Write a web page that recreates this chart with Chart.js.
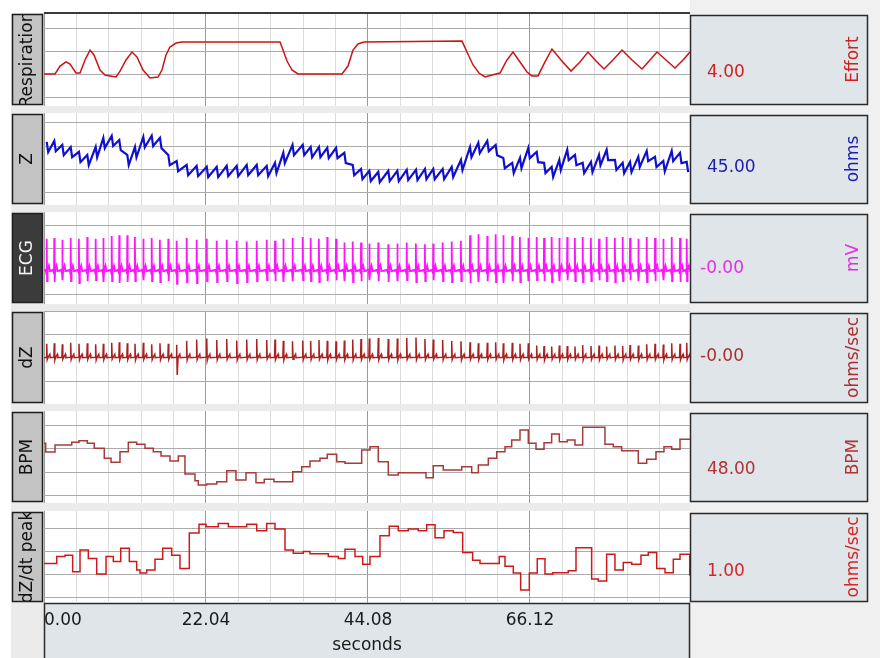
<!DOCTYPE html>
<html>
<head>
<meta charset="utf-8">
<script src="https://cdn.jsdelivr.net/npm/chart.js@4.4.1/dist/chart.umd.min.js"></script>
<style>
  html, body { margin: 0; padding: 0; background: #fff; }
  #wrap { position: relative; width: 880px; height: 658px; overflow: hidden; background: #fff; }
  .band { position: absolute; }
  canvas { position: absolute; left: 0; }
</style>
</head>
<body>
<div id="wrap">
  <div class="band" style="left:11px;top:13px;width:679px;height:645px;background:#ebebeb"></div>
  <div class="band" style="left:690px;top:0;width:190px;height:658px;background:#f0f0f0"></div>
  <canvas id="cResp" width="880" height="93" style="top:13px"></canvas>
  <canvas id="cZ" width="880" height="92" style="top:113px"></canvas>
  <canvas id="cEcg" width="880" height="92" style="top:212px"></canvas>
  <canvas id="cDz" width="880" height="93" style="top:311px"></canvas>
  <canvas id="cBpm" width="880" height="92" style="top:411px"></canvas>
  <canvas id="cPeak" width="880" height="147" style="top:511px"></canvas>
  <div class="band" style="left:44px;top:12px;width:646px;height:2px;background:#3a3a3a"></div>
</div>
<script>
// time axis (seconds)
const X_MAX = 87.89;
const majorTicks = [0, 22.04, 44.08, 66.12];
const tickLabels = ["0.00", "22.04", "44.08", "66.12"];
const minorStep = 4.408;

// respiration effort
const respT = [0.00, 1.50, 2.18, 2.99, 3.54, 4.35, 4.90, 5.58, 6.26, 6.80, 7.62, 8.30, 8.98, 9.80, 10.34, 11.16, 11.97, 12.65, 13.47, 14.42, 15.51, 16.05, 16.60, 17.14, 17.96, 18.78, 32.11, 32.52, 33.06, 33.74, 34.56, 40.54, 41.36, 42.04, 42.72, 43.54, 56.87, 57.55, 58.37, 59.18, 60.00, 60.95, 62.04, 62.99, 63.81, 64.76, 65.71, 66.39, 67.21, 68.16, 69.11, 70.34, 71.70, 72.92, 74.01, 75.10, 76.19, 77.41, 78.64, 80.00, 81.36, 82.45, 83.40, 84.62, 85.85, 86.94, 87.89];
const respV = [2.06, 2.06, 2.74, 3.09, 2.91, 2.14, 2.14, 3.26, 4.11, 3.69, 2.40, 1.97, 1.89, 1.80, 2.31, 3.26, 3.94, 3.51, 2.40, 1.71, 1.80, 2.40, 3.69, 4.37, 4.71, 4.80, 4.80, 4.11, 3.17, 2.40, 2.06, 2.06, 2.74, 4.11, 4.63, 4.80, 4.88, 3.94, 2.83, 2.14, 1.80, 1.97, 2.14, 3.26, 3.94, 3.09, 2.23, 1.89, 1.89, 3.09, 4.20, 3.26, 2.31, 3.09, 3.94, 3.17, 2.49, 3.26, 4.11, 3.26, 2.49, 3.26, 3.94, 3.26, 2.57, 3.26, 3.94];

// heart beat times (s), read from the ECG spikes
const beatT = [
  0.37, 1.40, 2.49, 3.63, 4.76, 5.89, 7.03, 8.07, 9.21, 10.24,
  11.33, 12.38, 13.51, 14.65, 15.78, 16.91, 18.05, 19.41, 20.77, 22.14,
  23.50, 24.86, 26.22, 27.58, 28.94, 30.30, 31.43, 32.56, 33.81, 35.20,
  36.28, 37.41, 38.54, 39.73, 40.86, 42.00, 43.13, 44.26, 45.48, 46.84,
  48.07, 49.35, 50.61, 51.83, 52.96, 54.24, 55.47, 56.73, 57.96, 59.09,
  60.31, 61.45, 62.49, 63.71, 64.76, 65.89, 67.03, 68.03, 69.07, 70.11,
  71.19, 72.24, 73.29, 74.42, 75.51, 76.55, 77.68, 78.73, 79.73, 80.86,
  82.00, 83.13, 84.26, 85.40, 86.53, 87.44
];

// Z (ohms) at each beat and just after the systolic drop
const zTop = [
  46.18, 46.22, 46.05, 45.96, 45.75, 45.62, 45.96, 46.35, 46.44, 46.26,
  45.62, 45.96, 46.39, 46.44, 46.35, 45.62, 45.36, 45.19, 45.15, 45.11,
  45.11, 45.15, 45.15, 45.19, 45.19, 45.15, 45.28, 45.71, 46.05, 46.05,
  45.96, 45.96, 45.92, 45.92, 45.71, 45.19, 45.02, 44.94, 44.89, 44.94,
  44.94, 44.98, 44.98, 45.02, 45.02, 45.02, 45.11, 45.41, 45.96, 46.14,
  46.22, 46.05, 45.49, 45.28, 45.49, 45.92, 45.75, 45.28, 45.11, 45.41,
  45.84, 45.62, 45.28, 45.32, 45.62, 45.84, 45.41, 45.28, 45.32, 45.54,
  45.79, 45.54, 45.36, 45.79, 45.71, 45.32
];
const zLow = [
  45.74, 45.78, 45.61, 45.52, 45.31, 45.18, 45.52, 45.91, 46.00, 45.82,
  45.18, 45.52, 45.95, 46.00, 45.91, 45.18, 44.92, 44.75, 44.71, 44.67,
  44.67, 44.71, 44.71, 44.75, 44.75, 44.71, 44.84, 45.27, 45.61, 45.61,
  45.52, 45.52, 45.48, 45.48, 45.27, 44.75, 44.58, 44.50, 44.45, 44.50,
  44.50, 44.54, 44.54, 44.58, 44.58, 44.58, 44.67, 44.97, 45.52, 45.70,
  45.78, 45.61, 45.05, 44.84, 45.05, 45.48, 45.31, 44.84, 44.67, 44.97,
  45.40, 45.18, 44.84, 44.88, 45.18, 45.40, 44.97, 44.84, 44.88, 45.10,
  45.35, 45.10, 44.92, 45.35, 45.27, 44.88
];

// ECG R peak and S trough (mV) per beat
const ecgR = [
  0.70, 0.72, 0.68, 0.72, 0.70, 0.74, 0.70, 0.72, 0.76, 0.78,
  0.78, 0.74, 0.70, 0.72, 0.68, 0.70, 0.66, 0.72, 0.68, 0.70,
  0.66, 0.68, 0.66, 0.64, 0.66, 0.68, 0.66, 0.70, 0.72, 0.74,
  0.72, 0.70, 0.74, 0.70, 0.62, 0.64, 0.62, 0.60, 0.62, 0.58,
  0.60, 0.62, 0.60, 0.58, 0.60, 0.62, 0.64, 0.66, 0.78, 0.80,
  0.76, 0.80, 0.78, 0.76, 0.74, 0.72, 0.74, 0.72, 0.74, 0.72,
  0.74, 0.72, 0.74, 0.72, 0.70, 0.74, 0.72, 0.74, 0.72, 0.70,
  0.74, 0.72, 0.70, 0.74, 0.72, 0.70
];
const ecgS = [
  -0.22, -0.24, -0.20, -0.22, -0.26, -0.22, -0.20, -0.24, -0.22, -0.26,
  -0.24, -0.22, -0.20, -0.22, -0.24, -0.22, -0.28, -0.24, -0.26, -0.22,
  -0.24, -0.22, -0.26, -0.24, -0.22, -0.20, -0.22, -0.24, -0.22, -0.20,
  -0.22, -0.24, -0.22, -0.20, -0.22, -0.24, -0.22, -0.20, -0.22, -0.24,
  -0.22, -0.20, -0.24, -0.22, -0.20, -0.22, -0.24, -0.22, -0.26, -0.24,
  -0.22, -0.24, -0.26, -0.22, -0.24, -0.22, -0.20, -0.22, -0.24, -0.22,
  -0.20, -0.22, -0.24, -0.22, -0.20, -0.22, -0.24, -0.22, -0.20, -0.22,
  -0.24, -0.22, -0.20, -0.22, -0.24, -0.22
];

// dZ (ohms/sec) peak and trough per beat
const dzPeak = [
  0.60, 0.62, 0.58, 0.64, 0.60, 0.62, 0.58, 0.60, 0.64, 0.66,
  0.62, 0.60, 0.64, 0.58, 0.62, 0.60, 0.55, 0.72, 0.78, 0.82,
  0.76, 0.80, 0.74, 0.78, 0.80, 0.76, 0.78, 0.72, 0.70, 0.74,
  0.72, 0.76, 0.72, 0.70, 0.74, 0.78, 0.80, 0.82, 0.84, 0.80,
  0.82, 0.84, 0.86, 0.80, 0.78, 0.76, 0.72, 0.70, 0.66, 0.62,
  0.64, 0.66, 0.62, 0.64, 0.60, 0.62, 0.52, 0.50, 0.48, 0.52,
  0.50, 0.48, 0.54, 0.50, 0.52, 0.48, 0.52, 0.50, 0.54, 0.52,
  0.58, 0.60, 0.56, 0.62, 0.60, 0.64
];
const dzTrough = [
  -0.08, -0.10, -0.06, -0.08, -0.09, -0.07, -0.10, -0.08, -0.06, -0.09,
  -0.08, -0.10, -0.07, -0.08, -0.09, -0.07, -0.74, -0.10, -0.08, -0.12,
  -0.09, -0.07, -0.10, -0.08, -0.09, -0.06, -0.08, -0.10, -0.07, -0.09,
  -0.08, -0.07, -0.10, -0.08, -0.09, -0.10, -0.08, -0.07, -0.09, -0.08,
  -0.10, -0.07, -0.09, -0.08, -0.06, -0.09, -0.08, -0.10, -0.07, -0.09,
  -0.08, -0.07, -0.10, -0.08, -0.09, -0.06, -0.08, -0.10, -0.07, -0.09,
  -0.08, -0.07, -0.10, -0.08, -0.09, -0.06, -0.08, -0.10, -0.07, -0.09,
  -0.08, -0.07, -0.10, -0.08, -0.09, -0.08
];

// beat-to-beat heart rate (step start times and values)
const bpmT = [0.00, 0.23, 1.50, 3.77, 4.76, 5.89, 6.84, 8.20, 9.12, 10.34, 11.47, 12.61, 13.74, 14.87, 15.92, 17.14, 18.27, 19.18, 20.54, 20.99, 22.14, 23.50, 24.86, 26.12, 27.48, 28.84, 29.97, 31.29, 33.84, 35.06, 36.19, 37.55, 38.54, 39.82, 40.95, 43.22, 44.35, 45.48, 46.84, 48.20, 51.97, 52.96, 54.32, 56.83, 58.19, 59.09, 60.45, 61.59, 62.72, 63.63, 64.76, 65.89, 66.94, 68.03, 69.07, 70.11, 71.19, 72.24, 73.29, 76.32, 77.45, 78.59, 80.85, 82.00, 83.26, 84.35, 85.40, 86.53, 87.89];
const bpmV = [51.18, 49.31, 50.82, 51.40, 51.75, 51.18, 50.11, 47.95, 47.09, 49.37, 51.40, 50.97, 50.11, 49.37, 48.45, 47.37, 48.45, 44.57, 43.13, 42.20, 42.41, 42.91, 45.28, 43.28, 44.85, 42.69, 43.43, 42.91, 45.06, 46.14, 47.37, 47.95, 48.81, 47.22, 46.87, 49.74, 50.45, 47.22, 44.35, 44.85, 43.77, 46.36, 45.43, 46.14, 44.85, 46.51, 47.95, 49.37, 50.45, 51.90, 54.05, 51.18, 49.89, 51.31, 53.19, 51.53, 51.90, 50.82, 54.63, 50.97, 50.45, 49.59, 46.87, 47.74, 49.37, 50.45, 49.89, 52.05, 52.05];

// dZ/dt peak per beat (steps)
const peakT = [0.00, 1.73, 2.86, 3.90, 4.90, 6.03, 7.17, 8.44, 9.43, 10.44, 11.61, 12.61, 13.06, 13.97, 15.10, 16.15, 17.37, 18.50, 19.77, 21.09, 22.04, 23.71, 25.08, 27.58, 28.94, 30.30, 31.43, 32.79, 33.92, 35.28, 36.19, 38.68, 40.04, 40.95, 42.31, 43.36, 44.35, 45.71, 46.98, 48.20, 49.56, 50.92, 52.07, 53.20, 54.42, 55.69, 56.96, 58.32, 59.32, 61.94, 62.72, 63.85, 64.85, 66.03, 67.11, 68.16, 69.21, 71.33, 72.38, 74.51, 75.41, 76.55, 77.68, 78.81, 79.96, 81.22, 82.21, 83.36, 84.49, 85.62, 86.53, 87.85, 87.89];
const peakV = [1.23, 1.38, 1.41, 1.05, 1.52, 1.34, 1.00, 1.38, 1.27, 1.56, 1.27, 1.09, 1.02, 1.09, 1.32, 1.56, 1.41, 1.12, 1.89, 2.08, 2.03, 2.10, 2.03, 2.08, 1.94, 2.10, 1.98, 1.52, 1.45, 1.49, 1.44, 1.38, 1.34, 1.54, 1.38, 1.21, 1.38, 1.83, 2.04, 1.94, 1.98, 1.94, 2.07, 1.79, 1.94, 1.90, 1.47, 1.30, 1.23, 1.38, 1.17, 1.02, 0.65, 1.02, 1.33, 1.00, 1.03, 1.07, 1.57, 0.89, 0.85, 1.43, 1.09, 1.25, 1.21, 1.41, 1.47, 1.12, 1.03, 1.32, 1.43, 0.98, 0.98];

const FONT = '"DejaVu Sans", Verdana, sans-serif';

function pairs(xs, ys) {
  return xs.map((x, i) => ({ x: x, y: ys[i] }));
}

function zPoints() {
  const pts = [];
  beatT.forEach((t, i) => {
    pts.push({ x: t, y: zTop[i] });
    pts.push({ x: t + 0.2, y: zLow[i] });
  });
  return pts;
}

function ecgPoints() {
  const pts = [{ x: 0, y: 0 }];
  beatT.forEach((t, i) => {
    pts.push({ x: t - 0.12, y: 0.03 });
    pts.push({ x: t - 0.04, y: -0.06 });
    pts.push({ x: t, y: ecgR[i] });
    pts.push({ x: t + 0.05, y: ecgS[i] });
    pts.push({ x: t + 0.12, y: 0.02 });
    pts.push({ x: t + 0.3, y: 0.12 });
    pts.push({ x: t + 0.45, y: 0 });
  });
  return pts;
}

function dzPoints() {
  const pts = [{ x: 0, y: 0 }];
  beatT.forEach((t, i) => {
    pts.push({ x: t - 0.06, y: 0.02 });
    pts.push({ x: t, y: dzPeak[i] });
    pts.push({ x: t + 0.07, y: dzTrough[i] });
    pts.push({ x: t + 0.2, y: 0.03 });
    pts.push({ x: t + 0.42, y: 0.15 });
    pts.push({ x: t + 0.48, y: 0 });
  });
  return pts;
}

// vertical grid: a darker line every 22.04 s, light ones between
const xGrid = [];
majorTicks.forEach((m) => {
  xGrid.push({ value: m, major: true });
  for (let k = 1; k < 5; k++) {
    const v = m + k * minorStep;
    if (v < X_MAX) xGrid.push({ value: v, major: false });
  }
});

const decoPlugin = {
  id: "deco",
  beforeDraw(chart, args, o) {
    const ctx = chart.ctx;
    const a = chart.chartArea;
    const h = a.bottom;
    ctx.save();
    ctx.fillStyle = "#fff";
    ctx.fillRect(a.left, a.top, a.right - a.left, a.bottom - a.top);

    // channel name box on the left
    ctx.fillStyle = o.dark ? "#3b3b3b" : "#c3c3c3";
    ctx.fillRect(12, 1, 31, h - 2);
    ctx.strokeStyle = "#1e1e1e";
    ctx.lineWidth = 1.5;
    ctx.strokeRect(12.5, 1.5, 30, h - 3);
    ctx.save();
    ctx.beginPath();
    ctx.rect(13, 2, 29, h - 4);
    ctx.clip();
    ctx.translate(27.5, h / 2);
    ctx.rotate(-Math.PI / 2);
    ctx.font = "17px " + FONT;
    ctx.textAlign = "center";
    ctx.textBaseline = "middle";
    ctx.fillStyle = o.dark ? "#f4f4f4" : "#111";
    ctx.fillText(o.label, 0, 0);
    ctx.restore();

    // readout box on the right
    ctx.fillStyle = "#dfe5e8";
    ctx.fillRect(690, 2, 178, h - 3);
    ctx.strokeStyle = "#2a2a2a";
    ctx.strokeRect(690.5, 2.5, 177, h - 4);
    ctx.font = "17px " + FONT;
    ctx.fillStyle = o.color;
    ctx.textAlign = "left";
    ctx.textBaseline = "middle";
    ctx.fillText(o.value, o.valueX, o.valueY);
    ctx.save();
    ctx.translate(854, h / 2);
    ctx.rotate(-Math.PI / 2);
    ctx.textAlign = "center";
    ctx.fillText(o.unit, 0, 0);
    ctx.restore();

    // time axis box under the last channel
    if (o.axisBox) {
      ctx.fillStyle = "#dfe5e8";
      ctx.fillRect(44, a.bottom, 646, chart.height - a.bottom);
      ctx.strokeStyle = "#2a2a2a";
      ctx.beginPath();
      ctx.moveTo(44.5, chart.height);
      ctx.lineTo(44.5, a.bottom + 0.5);
      ctx.lineTo(689.5, a.bottom + 0.5);
      ctx.lineTo(689.5, chart.height);
      ctx.stroke();
    }
    ctx.restore();
  },
};

function makePanel(id, dataset, yMin, yMax, yTicks, deco, isLast) {
  return new Chart(document.getElementById(id), {
    type: "line",
    data: { datasets: [dataset] },
    options: {
      responsive: false,
      animation: false,
      devicePixelRatio: 1,
      events: [],
      layout: { padding: { left: 44, right: 190, top: 0, bottom: 0 } },
      elements: { point: { radius: 0 }, line: { tension: 0 } },
      plugins: {
        legend: { display: false },
        tooltip: { enabled: false },
        deco: Object.assign({ axisBox: isLast }, deco),
      },
      scales: {
        x: {
          type: "linear",
          min: 0,
          max: X_MAX,
          afterBuildTicks: (s) => {
            s.ticks = xGrid.map((g) => ({ value: g.value, major: g.major }));
          },
          afterFit: (s) => {
            s.height = isLast ? 55 : 0;
          },
          border: { display: false },
          grid: {
            drawTicks: false,
            color: (c) => (c.tick && c.tick.major ? "#9a9a9a" : "#dcdcdc"),
          },
          ticks: {
            display: isLast,
            autoSkip: false,
            maxRotation: 0,
            align: "inner",
            padding: 7,
            color: "#1a1a1a",
            font: { family: FONT, size: 17 },
            callback: (v) => {
              const i = majorTicks.indexOf(v);
              return i >= 0 ? tickLabels[i] : "";
            },
          },
          title: {
            display: isLast,
            text: "seconds",
            color: "#1a1a1a",
            font: { family: FONT, size: 17 },
            padding: { top: 0, bottom: 2 },
          },
        },
        y: {
          min: yMin,
          max: yMax,
          afterBuildTicks: (s) => {
            s.ticks = yTicks.map((v) => ({ value: v }));
          },
          afterFit: (s) => {
            s.width = 0;
          },
          border: { display: false },
          grid: { drawTicks: false, color: "#ababab" },
          ticks: { display: false },
        },
      },
    },
    plugins: [decoPlugin],
  });
}

makePanel("cResp",
  { data: pairs(respT, respV), borderColor: "#cc1414", borderWidth: 1.5 },
  -0.686, 7.286, [0, 2, 4, 6],
  { label: "Respiration", value: "4.00", unit: "Effort", color: "#cc2222", valueX: 707, valueY: 60 });

makePanel("cZ",
  { data: zPoints(), borderColor: "#1010cc", borderWidth: 2.2 },
  43.473, 47.416, [44, 45, 46, 47],
  { label: "Z", value: "45.00", unit: "ohms", color: "#2020b0", valueX: 707, valueY: 55 });

makePanel("cEcg",
  { data: ecgPoints(), borderColor: "#ff14ff", borderWidth: 1.8 },
  -0.717, 1.283, [-0.5, 0, 0.5, 1.0],
  { label: "ECG", dark: true, value: "-0.00", unit: "mV", color: "#e030e0", valueX: 700, valueY: 57 });

makePanel("cDz",
  { data: dzPoints(), borderColor: "#a82222", borderWidth: 1.5 },
  -1.983, 2.0, [-1, 0, 1, 2],
  { label: "dZ", value: "-0.00", unit: "ohms/sec", color: "#a83030", valueX: 700, valueY: 46 });

makePanel("cBpm",
  { data: pairs(bpmT, bpmV), borderColor: "#a83a3a", borderWidth: 1.5, stepped: true },
  38.32, 58.15, [40, 45, 50, 55],
  { label: "BPM", value: "48.00", unit: "BPM", color: "#b03434", valueX: 707, valueY: 59 });

makePanel("cPeak",
  { data: pairs(peakT, peakV), borderColor: "#cc1a1a", borderWidth: 1.5, stepped: true },
  0.370, 2.370, [0.5, 1.0, 1.5, 2.0],
  { label: "dZ/dt peak", value: "1.00", unit: "ohms/sec", color: "#d02828", valueX: 707, valueY: 61 },
  true);
</script>
</body>
</html>
